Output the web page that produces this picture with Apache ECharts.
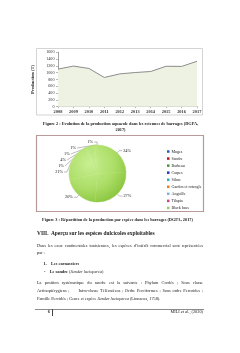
<!DOCTYPE html>
<html>
<head>
<meta charset="utf-8">
<script src="https://cdn.jsdelivr.net/npm/echarts@6/dist/echarts.min.js"></script>
<style>
  html, body { margin:0; padding:0; background:#fff; }
  #page { position:relative; width:240px; height:353px; overflow:hidden; font-family:'Liberation Serif','Times New Roman',serif; color:#222; }
  #chart { position:absolute; left:0; top:0; width:240px; height:353px; }
  .t { position:absolute; white-space:nowrap; line-height:6px; font-size:4.3px; }
  .c { text-align:center; }
  .b { font-weight:bold; }
  .j { white-space:normal; text-align:justify; text-align-last:justify; width:166px; }
</style>
</head>
<body>
<div id="page">
  <div id="chart"></div>
  <div class="t b c" style="left:20px;width:201px;top:121px;">Figure 2 : Evolution de la production aquacole dans les retenues de barrages (DGPA,</div>
  <div class="t b c" style="left:20px;width:201px;top:127px;">2017)</div>
  <div class="t b c" style="left:17px;width:201px;top:217px;">Figure 3 : Répartition de la production par espèce dans les barrages (DGPA, 2017)</div>
  <div class="t b" style="left:37px;top:230.3px;font-size:5.4px;">VIII.&nbsp; Aperçu sur les espèces dulcicoles exploitables</div>
  <div class="t j" style="left:37px;top:242.7px;">Dans les eaux continentales tunisiennes, les espèces d’intérêt commercial sont représentées</div>
  <div class="t" style="left:37px;top:250.3px;">par :</div>
  <div class="t b" style="left:43.5px;top:261.3px;">1.&nbsp;&nbsp;&nbsp; Les carnassiers</div>
  <div class="t" style="left:44px;top:269.3px;">-&nbsp;&nbsp;&nbsp; <b>Le sandre</b> (<i>Sander lucioperca</i>)</div>
  <div class="t j" style="left:37px;top:280.3px;">La position systématique du sandre est la suivante : Phylum Cordés ; Sous classe</div>
  <div class="t j" style="left:37px;top:288.3px;">Actinoptérygiens ;&nbsp;&nbsp;&nbsp;&nbsp; Infra-classe Téléostéens ; Ordre Perciformes ; Sous ordre Percoides ;</div>
  <div class="t" style="left:37px;top:296px;">Famille Percidés ; Genre et espèce <i>Sander lucioperca</i> (Linnaeus, 1758).</div>
  <div style="position:absolute;left:35px;top:308.5px;width:169px;height:1.5px;background:#8c8c8c;"></div>
  <div style="position:absolute;left:52px;top:309px;width:0.8px;height:7px;background:#444;"></div>
  <div class="t b" style="left:47.8px;top:308.5px;">6</div>
  <div class="t" style="left:150px;width:53px;text-align:right;top:308.5px;">MILI <i>et al.</i>, (2020)</div>
</div>
<script>
// ---- Data ----
const years = ['2008','2009','2010','2011','2012','2013','2014','2015','2016','2017'];
const production = [1105, 1195, 1125, 860, 965, 1005, 1035, 1190, 1185, 1335];
const yMin = 0, yMax = 1600, yStep = 200;

const species = ['Muges','Sandre','Barbeau','Carpes','Silure','Gardon et rotengle','Anguille','Tilapia','Black bass'];
const shares = [24, 27, 20, 21, 1, 4, 1, 1, 0.4];
const legendColors = ['#1f5fc0','#b01525','#3f9a2e','#2236b8','#2fb0c2','#f07a22','#7fb1e3','#d3457a','#93d35c'];

// ---- Chart ----
const chart = echarts.init(document.getElementById('chart'), null, {renderer:'canvas'});
const FONT = 'Liberation Serif';
const pieCenter = [97.5, 173.5];
const pieRadius = 28.5;
const pieGreen = { type:'radial', global:true, x:pieCenter[0]-8, y:pieCenter[1]-10, r:pieRadius*1.5,
  colorStops:[{offset:0,color:'#c8ef92'},{offset:0.6,color:'#abdd66'},{offset:1,color:'#88c43c'}] };

chart.setOption({
  animation: false,
  backgroundColor: '#fff',
  graphic: [
    { type:'rect', shape:{x:36.5, y:48.5, width:166, height:66.5}, style:{fill:'none', stroke:'#d4d4d4', lineWidth:1}, z:-1 },
    { type:'rect', shape:{x:36.5, y:135.5, width:167, height:76}, style:{fill:'none', stroke:'#b99a9a', lineWidth:1.2}, z:-1 }
  ],
  grid: { left:58, right:43, top:52.3, height:54.4, containLabel:false },
  xAxis: {
    type:'category', data: years, boundaryGap:false,
    axisLine:{ lineStyle:{ color:'#8a8a8a', width:0.8 } },
    axisTick:{ show:true, length:1.5, lineStyle:{ color:'#8a8a8a', width:0.6 } },
    axisLabel:{ fontFamily:FONT, fontSize:4.4, color:'#333', margin:3, interval:0, fontWeight:'bold' }
  },
  yAxis: {
    type:'value', min:yMin, max:yMax, interval:yStep,
    name:'Production (T)', nameLocation:'middle', nameGap:16.5, nameRotate:90,
    nameTextStyle:{ fontFamily:FONT, fontSize:4.6, fontWeight:'bold', color:'#222' },
    axisLine:{ show:true, lineStyle:{ color:'#8a8a8a', width:0.8 } },
    axisTick:{ show:true, length:2, lineStyle:{ color:'#8a8a8a', width:0.6 } },
    splitLine:{ show:false },
    axisLabel:{ fontFamily:FONT, fontSize:4.2, color:'#333', margin:3.5, formatter: v => String(v) }
  },
  legend: {
    orient:'vertical', left:162, top:143,
    itemWidth:2.5, itemHeight:2.5, itemGap:0, icon:'rect',
    textStyle:{ fontFamily:FONT, fontSize:4.0, color:'#222', lineHeight:7.05, padding:[0,0,0,-3] },
    data: species.map((n,i)=>({ name:n, itemStyle:{ color:legendColors[i], borderColor:legendColors[i], borderWidth:0 } }))
  },
  series: [
    {
      type:'line', data: production, symbol:'none',
      lineStyle:{ color:'#8c8c8c', width:1 },
      areaStyle:{ color:'#eef2e3', opacity:1 },
      z:2
    },
    {
      type:'pie', center: pieCenter, radius: pieRadius, startAngle:90, clockwise:true,
      avoidLabelOverlap:true, percentPrecision:0,
      data: species.map((n,i)=>({ name:n, value:shares[i] })),
      itemStyle:{ borderWidth:0.4, borderColor:pieGreen, color:pieGreen },
      label:{ show:true, position:'outside', formatter:'{d}%', fontFamily:FONT, fontSize:4.3, color:'#222', distanceToLabelLine:1 },
      labelLine:{ show:true, length:3, length2:3, lineStyle:{ color:'#7a7a7a', width:0.5 } },
      emphasis:{ disabled:true }
    }
  ]
});
</script>
</body>
</html>
